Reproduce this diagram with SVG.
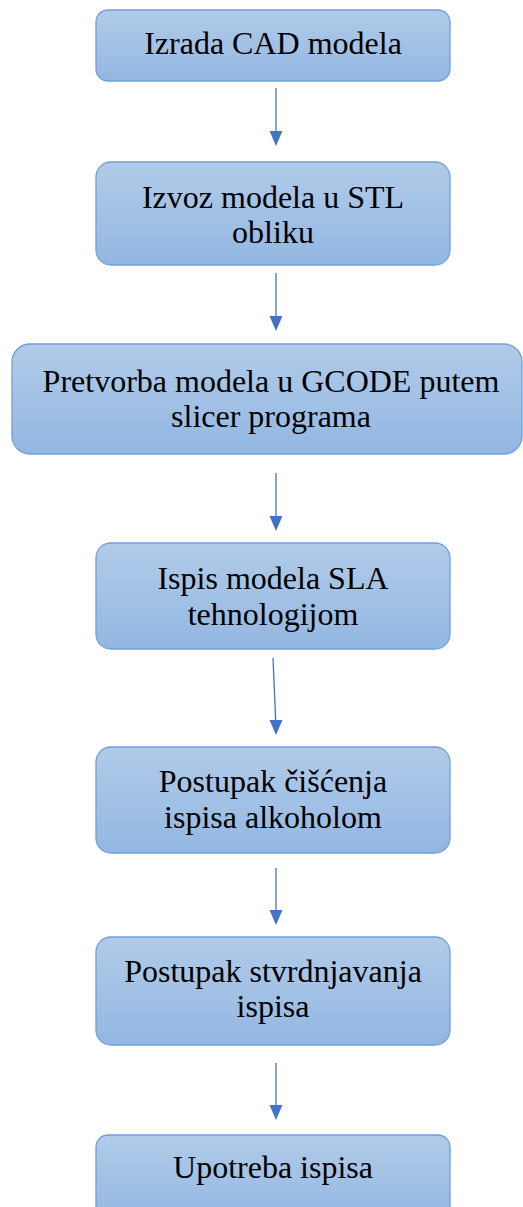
<svg xmlns="http://www.w3.org/2000/svg" width="523" height="1207" viewBox="0 0 523 1207">
<style>
.box{fill:url(#g);stroke:#6FA0DA;stroke-width:1.3}
.t{font-family:"Liberation Serif","Times New Roman",serif;font-size:32px;fill:#000;text-anchor:middle}
.c{stroke:#4472C4;stroke-width:1.3;fill:none}
.h{fill:#4472C4}
</style>
<defs>
<linearGradient id="g" x1="0" y1="0" x2="0" y2="1">
<stop offset="0" stop-color="#B1CBE9"/>
<stop offset="1" stop-color="#93B7E2"/>
</linearGradient>
</defs>
<g id="connectors">
<line class="c" x1="276" y1="88" x2="276" y2="140"/>
<path class="h" d="M269.5,131 L282.5,131 L276,146 Z"/>
<line class="c" x1="276" y1="273" x2="276" y2="325"/>
<path class="h" d="M269.5,316 L282.5,316 L276,331 Z"/>
<line class="c" x1="276" y1="473" x2="276" y2="525"/>
<path class="h" d="M269.5,516 L282.5,516 L276,531 Z"/>
<line class="c" x1="273" y1="658" x2="276" y2="728"/>
<path class="h" d="M269.5,720 L282.5,720 L276,735 Z"/>
<line class="c" x1="276" y1="868" x2="276" y2="918"/>
<path class="h" d="M269.5,910 L282.5,910 L276,925 Z"/>
<line class="c" x1="276" y1="1063" x2="276" y2="1113"/>
<path class="h" d="M269.5,1105 L282.5,1105 L276,1120 Z"/>
</g>
<g id="n1">
<rect class="box" x="96" y="10" width="354" height="71" rx="12"/>
<text class="t" x="273" y="54">Izrada CAD modela</text>
</g>
<g id="n2">
<rect class="box" x="96" y="162" width="354" height="103" rx="15"/>
<text class="t" x="273" y="208">Izvoz modela u STL</text>
<text class="t" x="273" y="243">obliku</text>
</g>
<g id="n3">
<rect class="box" x="12" y="344" width="510" height="110" rx="18"/>
<text class="t" x="271" y="392">Pretvorba modela u GCODE putem</text>
<text class="t" x="271" y="427">slicer programa</text>
</g>
<g id="n4">
<rect class="box" x="96" y="543" width="354" height="106" rx="15"/>
<text class="t" x="273" y="589">Ispis modela SLA</text>
<text class="t" x="273" y="625">tehnologijom</text>
</g>
<g id="n5">
<rect class="box" x="96" y="747" width="354" height="106" rx="15"/>
<text class="t" x="273" y="792">Postupak čišćenja</text>
<text class="t" x="273" y="828">ispisa alkoholom</text>
</g>
<g id="n6">
<rect class="box" x="96" y="937" width="354" height="108" rx="15"/>
<text class="t" x="273" y="982">Postupak stvrdnjavanja</text>
<text class="t" x="273" y="1017">ispisa</text>
</g>
<g id="n7">
<rect class="box" x="96" y="1135" width="354" height="85" rx="12"/>
<text class="t" x="273" y="1178">Upotreba ispisa</text>
</g>
</svg>
